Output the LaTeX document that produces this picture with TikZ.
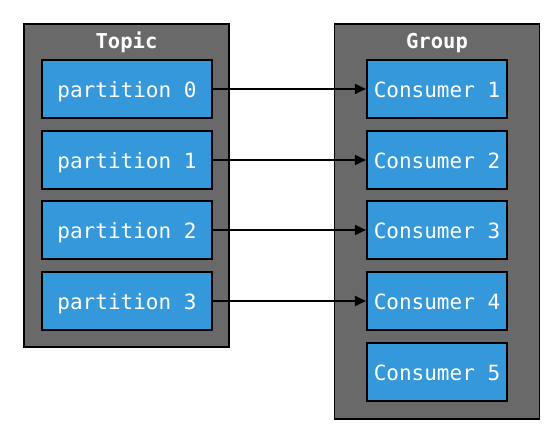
\documentclass[tikz,border=0pt]{standalone}
\usepackage{fontspec}
\setmonofont{DejaVu Sans Mono}
\usetikzlibrary{arrows.meta}
\definecolor{boxgray}{HTML}{696969}
\definecolor{boxblue}{HTML}{3498DB}
\tikzset{
  outerbox/.style={draw=black, fill=boxgray, line width=1.6pt, minimum width=205pt, inner sep=0pt},
  title/.style={text=white, font=\fontsize{20.5}{24}\selectfont\ttfamily\bfseries, anchor=base, inner sep=0pt},
  itembox/.style={draw=black, fill=boxblue, line width=1.6pt, minimum height=57.5pt, inner sep=0pt,
    text=white, font=\fontsize{21}{24}\selectfont\ttfamily, text height=16pt, text depth=0pt},
  pbox/.style={itembox, minimum width=170.5pt},
  cbox/.style={itembox, minimum width=140.5pt},
  link/.style={line width=1.8pt, -{Triangle[length=11pt,width=10pt]}}
}
\begin{document}
\begin{tikzpicture}[x=1pt,y=-1pt]
\useasboundingbox (0,0) rectangle (557,444);
% outer containers
\node[outerbox, minimum height=323.5pt] (topic) at (126.5,185.5) {};
\node[outerbox, minimum height=395.5pt] (group) at (437,221.5) {};
\node[title] (topictitle) at (126.5,48.5) {Topic};
\node[title] (grouptitle) at (437,48.5) {Group};
% partitions
\node[pbox] (p0) at (127,89) {partition 0};
\node[pbox] (p1) at (127,160) {partition 1};
\node[pbox] (p2) at (127,230) {partition 2};
\node[pbox] (p3) at (127,301) {partition 3};
% consumers
\node[cbox] (c1) at (437,89) {Consumer 1};
\node[cbox] (c2) at (437,160) {Consumer 2};
\node[cbox] (c3) at (437,230) {Consumer 3};
\node[cbox] (c4) at (437,301) {Consumer 4};
\node[cbox] (c5) at (437,372) {Consumer 5};
% links
\draw[link] (p0.east) -- (c1.west);
\draw[link] (p1.east) -- (c2.west);
\draw[link] (p2.east) -- (c3.west);
\draw[link] (p3.east) -- (c4.west);
\end{tikzpicture}
\end{document}
